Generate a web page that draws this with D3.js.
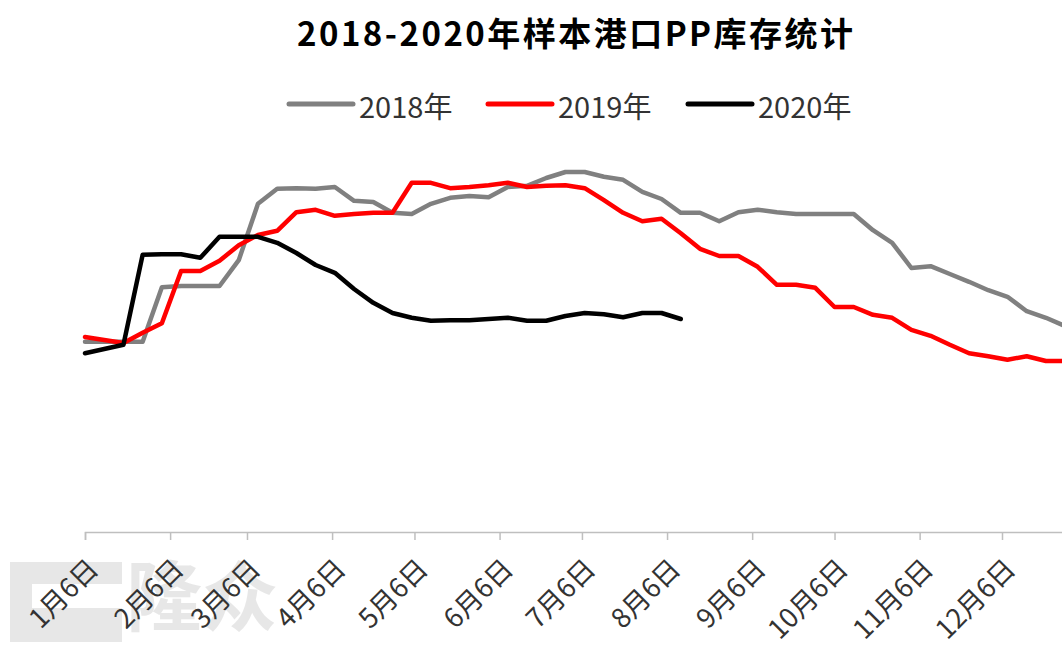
<!DOCTYPE html>
<html>
<head>
<meta charset="utf-8">
<script src="https://cdn.jsdelivr.net/npm/d3@7"></script>
<style>
  html, body { margin: 0; padding: 0; background: #fff; overflow: hidden; }
  svg { display: block; }
  text { font-family: "Noto Sans CJK SC", "Noto Sans", sans-serif; }
</style>
</head>
<body>
<svg id="chart" width="1062" height="650"></svg>
<script>
// Weekly sample dates (month-day), shared by all years
const weeks = ["01-06","01-13","01-20","01-27","02-03","02-10","02-17","02-24","03-03","03-10","03-17","03-24","03-31",
  "04-07","04-14","04-21","04-28","05-05","05-12","05-19","05-26","06-02","06-09","06-16","06-23","06-30",
  "07-07","07-14","07-21","07-28","08-04","08-11","08-18","08-25","09-01","09-08","09-15","09-22","09-29",
  "10-06","10-13","10-20","10-27","11-03","11-10","11-17","11-24","12-01","12-08","12-15","12-22","12-29"];

// Inventory (万吨)
const s2018 = [3.17,3.17,3.17,3.17,4.08,4.10,4.10,4.10,4.53,5.47,5.72,5.73,5.72,5.75,5.52,5.50,5.32,5.30,5.47,5.57,
  5.60,5.58,5.75,5.77,5.90,6.00,6.00,5.92,5.87,5.67,5.55,5.32,5.32,5.18,5.33,5.37,5.33,5.30,5.30,5.30,
  5.30,5.03,4.82,4.40,4.43,4.30,4.17,4.03,3.92,3.68,3.57,3.43];
const s2019 = [3.25,3.20,3.15,3.32,3.48,4.35,4.35,4.52,4.78,4.95,5.02,5.33,5.37,5.27,5.30,5.32,5.32,5.82,5.82,5.73,
  5.75,5.78,5.82,5.75,5.77,5.78,5.73,5.53,5.32,5.18,5.22,4.98,4.72,4.60,4.60,4.42,4.12,4.12,4.07,3.75,
  3.75,3.62,3.57,3.37,3.27,3.12,2.98,2.93,2.87,2.93,2.85,2.85];
const s2020 = [2.98,3.05,3.12,4.62,4.63,4.63,4.57,4.92,4.92,4.92,4.82,4.65,4.45,4.32,4.05,3.82,3.65,3.57,3.52,3.53,
  3.53,3.55,3.57,3.52,3.52,3.60,3.65,3.63,3.58,3.65,3.65,3.55];

const seriesNames = ["2018年","2019年","2020年"];
const seriesColors = ["#808080","#FF0000","#000000"];
const tickMonths = [1,2,3,4,5,6,7,8,9,10,11,12];
const titleText = "2018-2020年样本港口PP库存统计";

const svg = d3.select("#chart");
const parse = d3.timeParse("%Y-%m-%d");
const x = d3.scaleTime()
  .domain([parse("2018-01-06"), parse("2018-12-31")])
  .range([85, 85 + 359 * (917 / 334)]);
const y = d3.scaleLinear().domain([0, 7]).range([532, 112]);

// watermark (faint logo)
const wm = svg.append("g").attr("opacity", 0.18);
wm.append("path").attr("d", "M10,562 L122,562 L122,584 L32,584 L32,608 L122,608 L122,642 L10,642 Z").attr("fill", "#808080");
wm.append("text").attr("x", 126).attr("y", 625).attr("font-size", 76).attr("font-weight", "bold")
  .attr("fill", "#808080").text("隆众");

// title
svg.append("text")
  .attr("x", 575).attr("y", 32)
  .attr("text-anchor", "middle").attr("dominant-baseline", "central")
  .attr("font-size", 33).attr("font-weight", "bold").attr("fill", "#000")
  .attr("textLength", 556).attr("lengthAdjust", "spacing")
  .text(titleText);

// legend
const legendX = [289, 488, 688];
seriesNames.forEach((n, i) => {
  const g = svg.append("g");
  g.append("line").attr("x1", legendX[i]).attr("x2", legendX[i] + 64)
    .attr("y1", 104).attr("y2", 104)
    .attr("stroke", seriesColors[i]).attr("stroke-width", 5).attr("stroke-linecap", "round");
  g.append("text").attr("x", legendX[i] + 70).attr("y", 105)
    .attr("dominant-baseline", "central").attr("font-size", 29).attr("fill", "#333")
    .text(n);
});

// axis
const tickDates = tickMonths.map(m => parse("2018-" + String(m).padStart(2, "0") + "-06"));
const axis = d3.axisBottom(x).tickValues(tickDates).tickSize(8).tickPadding(0)
  .tickFormat(d => (d.getMonth() + 1) + "月6日");
const ax = svg.append("g").attr("transform", "translate(0,532)").call(axis);
ax.select(".domain").attr("stroke", "#BFBFBF").attr("stroke-width", 1.5);
ax.selectAll(".tick line").attr("stroke", "#BFBFBF").attr("stroke-width", 1.5);
ax.selectAll(".tick text")
  .attr("font-size", 27).attr("fill", "#333")
  .attr("font-family", "\"Noto Sans CJK SC\", sans-serif")
  .attr("text-anchor", "end")
  .attr("dy", 0)
  .attr("transform", "translate(9,33) rotate(-45)");

// lines
const line = d3.line()
  .x((d, i) => x(parse("2018-" + weeks[i])))
  .y(d => y(d));
const data = [s2018, s2019, s2020];
const lg = svg.append("g");
data.forEach((s, k) => {
  lg.append("path").datum(s)
    .attr("fill", "none").attr("stroke", seriesColors[k])
    .attr("stroke-width", 4.5).attr("stroke-linejoin", "round").attr("stroke-linecap", "round")
    .attr("d", line);
});
</script>
</body>
</html>
